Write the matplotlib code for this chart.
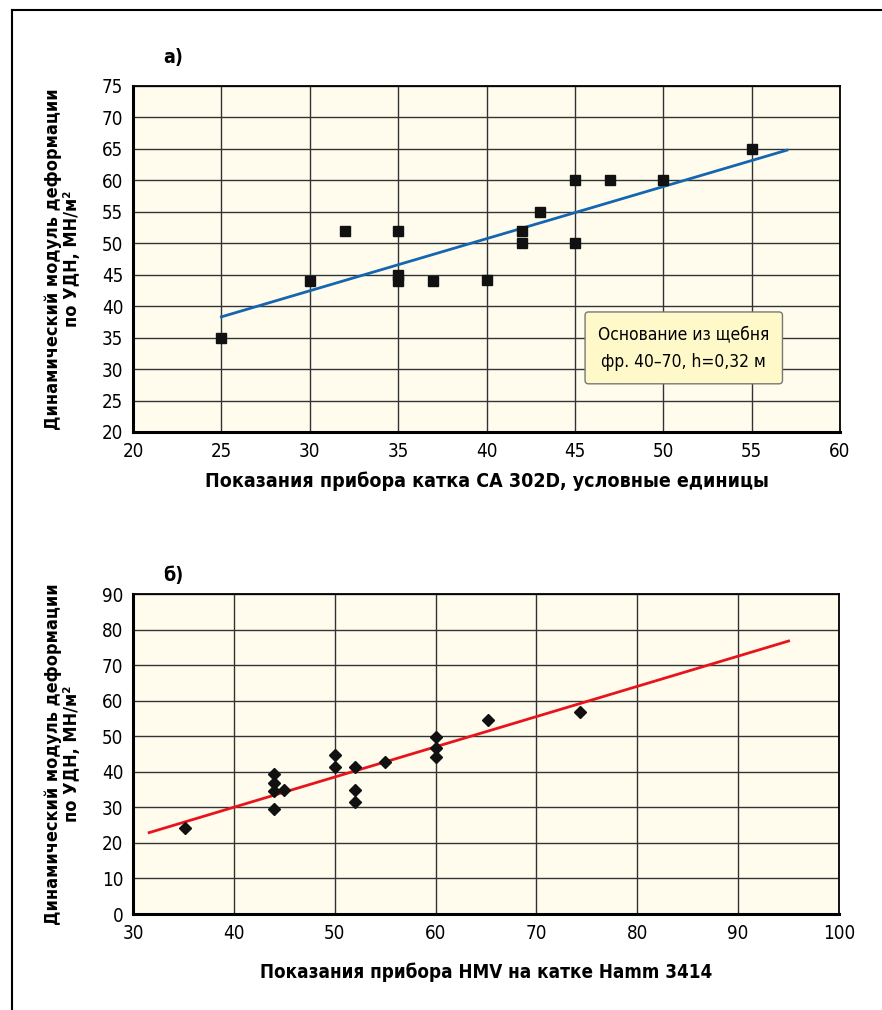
import numpy as np
import matplotlib.pyplot as plt
from matplotlib.lines import Line2D

plt.rcParams['font.family'] = ['DejaVu Sans']
plt.rcParams['font.stretch'] = 'condensed'

# panel a) CA 302D readings vs dynamic modulus
xa = [25, 30, 32, 35, 35, 35, 37, 40, 42, 42, 43, 45, 45, 47, 50, 55]
ya = [35, 44, 52, 52, 45, 44, 44, 44.2, 52, 50, 55, 60, 50, 60, 60, 65]
fit_a_x = [25, 57]
fit_a_y = [38.3, 64.8]

# panel б) HMV readings vs dynamic modulus
xb = [35.2, 44, 44, 44, 45, 44, 50, 50, 52, 52, 52, 55, 60, 60, 60, 65.2, 74.3]
yb = [24.2, 39.5, 36.8, 34.6, 35.0, 29.5, 44.8, 41.5, 41.5, 35.0, 31.5, 42.8, 49.8, 46.7, 44.2, 54.6, 56.8]
fit_b_x = [31.6, 95]
fit_b_y = [22.9, 76.8]

ylab = 'Динамический модуль деформации\nпо УДН, МН/м²'
bg = '#FFFCEE'
tick_fs = 13.5
lab_fs = 14

fig = plt.figure(figsize=(8.82, 10.10), dpi=100)
ax1 = fig.add_axes([0.1508, 0.5723, 0.8016, 0.3426])
ax2 = fig.add_axes([0.1508, 0.0950, 0.8005, 0.3168])

for ax in (ax1, ax2):
    ax.set_facecolor(bg)
    ax.grid(True, color='#333333', linewidth=1.0)
    ax.set_axisbelow(True)
    ax.tick_params(length=0, labelsize=tick_fs, pad=7)
    for s in ['left', 'bottom']:
        ax.spines[s].set_linewidth(2.2)
    for s in ['top', 'right']:
        ax.spines[s].set_linewidth(1.3)
    ax.set_ylabel(ylab, fontsize=13, fontweight='bold', linespacing=1.1)
    ax.yaxis.set_label_coords(-0.1, 0.5)
    ax.yaxis.label.set_va('center')

ax1.plot(fit_a_x, fit_a_y, color='#1466B0', linewidth=2, zorder=3)
ax1.plot(xa, ya, 's', color='#111111', markersize=7.2, zorder=4)
ax1.set_xlim(20, 60)
ax1.set_ylim(20, 75)
ax1.set_xticks(np.arange(20, 61, 5))
ax1.set_yticks(np.arange(20, 76, 5))
ax1.set_xlabel('Показания прибора катка CA 302D, условные единицы',
               fontsize=lab_fs, fontweight='bold')
ax1.xaxis.set_label_coords(0.5, -0.115)
ax1.xaxis.label.set_va('top')
ax1.text(0.0425, 1.065, 'а)', transform=ax1.transAxes, fontsize=lab_fs, fontweight='bold')
ax1.text(0.779, 0.243, 'Основание из щебня\nфр. 40–70, h=0,32 м', transform=ax1.transAxes,
         ha='center', va='center', fontsize=12.5, linespacing=1.7, zorder=5,
         bbox=dict(boxstyle='round,pad=0.75,rounding_size=0.2', facecolor='#FFF9C9',
                   edgecolor='#777777', linewidth=1))

ax2.plot(fit_b_x, fit_b_y, color='#E8141C', linewidth=2, zorder=3)
ax2.plot(xb, yb, 'D', color='#111111', markersize=6.6, zorder=4)
ax2.set_xlim(30, 100)
ax2.set_ylim(0, 90)
ax2.set_xticks(np.arange(30, 101, 10))
ax2.set_yticks(np.arange(0, 91, 10))
ax2.set_xlabel('Показания прибора HMV на катке Hamm 3414',
               fontsize=13.5, fontweight='bold')
ax2.xaxis.set_label_coords(0.5, -0.15)
ax2.xaxis.label.set_va('top')
ax2.text(0.0425, 1.04, 'б)', transform=ax2.transAxes, fontsize=lab_fs, fontweight='bold')

# outer frame (top and left edges only)
fig.add_artist(Line2D([12 / 882, 1], [1 - 10 / 1010, 1 - 10 / 1010], color='black', linewidth=1.5))
fig.add_artist(Line2D([12 / 882, 12 / 882], [0, 1 - 10 / 1010], color='black', linewidth=1.5))

fig.savefig('out.png', dpi=100)
